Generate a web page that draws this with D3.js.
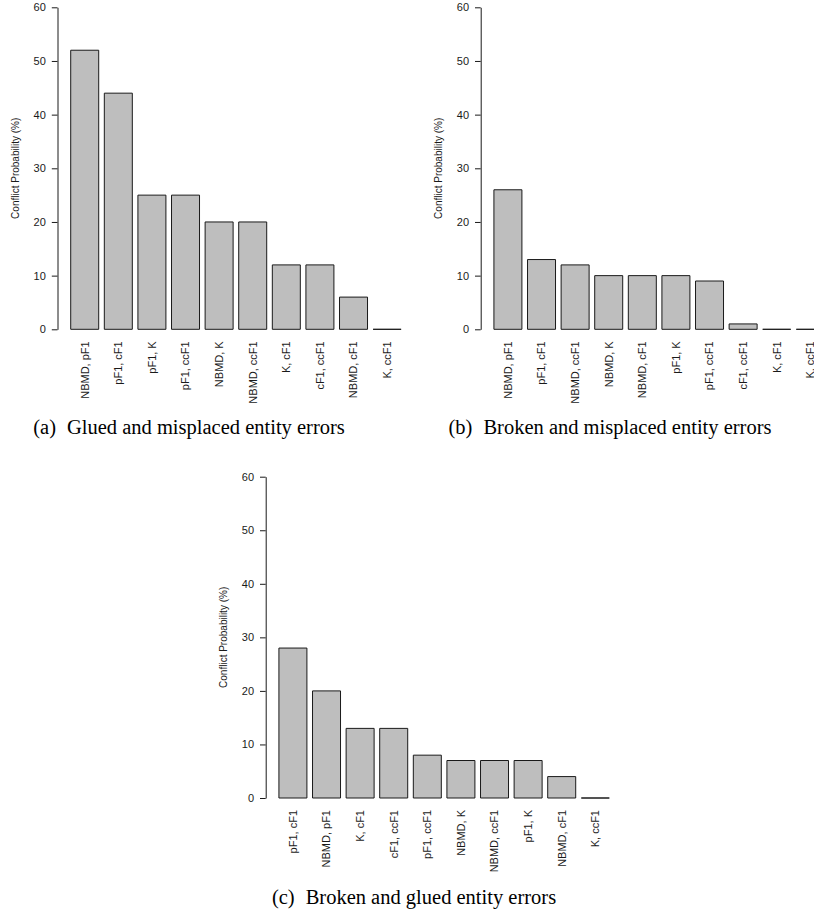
<!DOCTYPE html>
<html>
<head>
<meta charset="utf-8">
<script src="https://cdn.jsdelivr.net/npm/d3@7/dist/d3.min.js"></script>
<style>
  html, body { margin: 0; padding: 0; background: #fff; }
  svg { display: block; }
</style>
</head>
<body>
<div id="chart"></div>
<script>
/* Conflict probability bar panels (a), (b), (c) */

var yTicks = [0, 10, 20, 30, 40, 50, 60];

var gluedMisplacedPairs = ['NBMD, pF1', 'pF1, cF1', 'pF1, K', 'pF1, ccF1', 'NBMD, K',
  'NBMD, ccF1', 'K, cF1', 'cF1, ccF1', 'NBMD, cF1', 'K, ccF1'];
var gluedMisplacedValues = [52, 44, 25, 25, 20, 20, 12, 12, 6, 0];

var brokenMisplacedPairs = ['NBMD, pF1', 'pF1, cF1', 'NBMD, ccF1', 'NBMD, K', 'NBMD, cF1',
  'pF1, K', 'pF1, ccF1', 'cF1, ccF1', 'K, cF1', 'K, ccF1'];
var brokenMisplacedValues = [26, 13, 12, 10, 10, 10, 9, 1, 0, 0];

var brokenGluedPairs = ['pF1, cF1', 'NBMD, pF1', 'K, cF1', 'cF1, ccF1', 'pF1, ccF1',
  'NBMD, K', 'NBMD, ccF1', 'pF1, K', 'NBMD, cF1', 'K, ccF1'];
var brokenGluedValues = [28, 20, 13, 13, 8, 7, 7, 7, 4, 0];

var captions = ['(a)', '(b)', '(c)'];
var captionTexts = ['Glued and misplaced entity errors',
  'Broken and misplaced entity errors',
  'Broken and glued entity errors'];

var WIDTH = 814, HEIGHT = 922;
var UNIT = 28;           /* bar width in px, R barplot space = 0.2 */
var SANS = '"Liberation Sans", Arial, Helvetica, sans-serif';
var SERIF = '"Liberation Serif", "Times New Roman", serif';
var INK = '#1a1a1a';

var svg = d3.select('#chart').append('svg')
  .attr('width', WIDTH)
  .attr('height', HEIGHT);

function drawPanel(opts) {
  var g = svg.append('g');
  var n = opts.names.length;
  var x0 = opts.axisX + 0.472 * UNIT;

  var x = d3.scaleBand()
    .domain(opts.names)
    .range([x0, x0 + (n * 1.2 - 0.2) * UNIT])
    .paddingInner(1 / 6)
    .paddingOuter(0);

  var y = d3.scaleLinear()
    .domain([0, 60])
    .range([opts.zeroY, opts.topY]);

  /* y axis */
  var axis = d3.axisLeft(y)
    .tickValues(yTicks)
    .tickSize(5.7)
    .tickSizeOuter(0)
    .tickPadding(6);

  var ax = g.append('g')
    .attr('transform', 'translate(' + opts.axisX + ',0)')
    .call(axis);
  ax.select('.domain').attr('stroke', INK).attr('stroke-width', 1);
  ax.selectAll('.tick line').attr('stroke', INK).attr('stroke-width', 1);
  ax.selectAll('.tick text')
    .attr('fill', INK)
    .style('font-family', SANS)
    .style('font-size', '11px');

  g.append('text')
    .attr('transform', 'translate(' + (opts.axisX - 39) + ',' + y(30) + ') rotate(-90)')
    .attr('text-anchor', 'middle')
    .attr('fill', INK)
    .style('font-family', SANS)
    .style('font-size', '10px')
    .text('Conflict Probability (%)');

  /* bars, drawn as paths so zero-height bars still show a line */
  g.append('g').selectAll('path')
    .data(opts.values)
    .join('path')
    .attr('d', function(d, i) {
      var bx = x(opts.names[i]), bw = x.bandwidth();
      return 'M' + bx + ',' + y(0) + 'H' + (bx + bw) + 'V' + y(d) + 'H' + bx + 'Z';
    })
    .attr('fill', '#bebebe')
    .attr('stroke', INK)
    .attr('stroke-width', 1);

  /* category labels, las = 2 */
  g.append('g').selectAll('text')
    .data(opts.names)
    .join('text')
    .attr('transform', function(d) {
      return 'translate(' + (x(d) + x.bandwidth() / 2) + ',' + (y(0) + 12) + ') rotate(-90)';
    })
    .attr('text-anchor', 'end')
    .attr('dy', '0.35em')
    .attr('fill', INK)
    .style('font-family', SANS)
    .style('font-size', '11px')
    .text(function(d) { return d; });

  /* caption */
  var cap = g.append('text')
    .attr('x', opts.captionX)
    .attr('y', opts.captionY)
    .attr('text-anchor', 'middle')
    .attr('fill', '#000')
    .style('font-family', SERIF)
    .style('font-size', '20.5px');
  cap.append('tspan').text(opts.caption);
  cap.append('tspan').attr('dx', 11).text(opts.captionText);
}

drawPanel({
  names: gluedMisplacedPairs, values: gluedMisplacedValues,
  axisX: 57.5, zeroY: 329.3, topY: 7.3,
  caption: captions[0], captionText: captionTexts[0],
  captionX: 189, captionY: 434
});

drawPanel({
  names: brokenMisplacedPairs, values: brokenMisplacedValues,
  axisX: 480.7, zeroY: 329.3, topY: 7.3,
  caption: captions[1], captionText: captionTexts[1],
  captionX: 610, captionY: 434
});

drawPanel({
  names: brokenGluedPairs, values: brokenGluedValues,
  axisX: 265.7, zeroY: 798, topY: 476.7,
  caption: captions[2], captionText: captionTexts[2],
  captionX: 414, captionY: 904
});
</script>
</body>
</html>
